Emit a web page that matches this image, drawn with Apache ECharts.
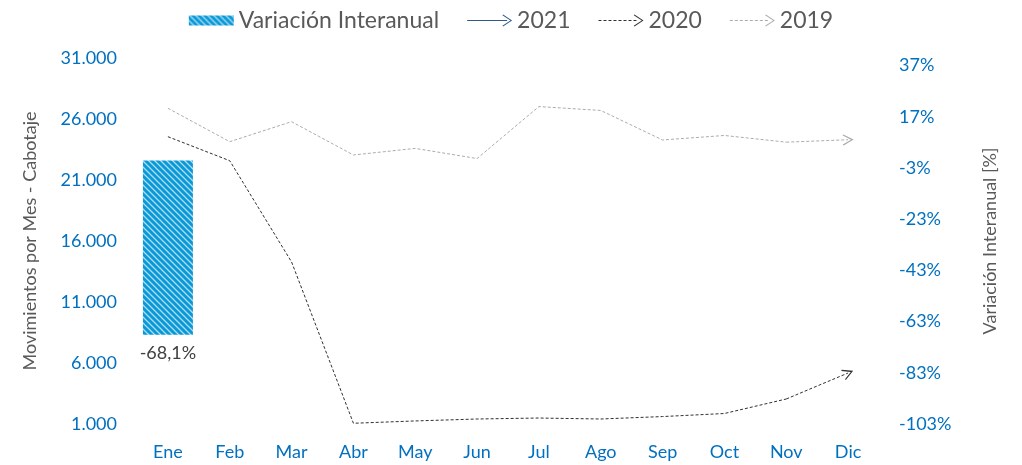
<!DOCTYPE html>
<html>
<head>
<meta charset="utf-8">
<script src="https://cdn.jsdelivr.net/npm/echarts@6/dist/echarts.min.js"></script>
<style>
    html, body { margin: 0; padding: 0; background: #fff; }
    #chart { width: 1022px; height: 465px; }
</style>
</head>
<body>
<div id="chart"></div>
<script>
// datos
const meses = ['Ene', 'Feb', 'Mar', 'Abr', 'May', 'Jun', 'Jul', 'Ago', 'Sep', 'Oct', 'Nov', 'Dic'];
const variacion = [-68.1, '-', '-', '-', '-', '-', '-', '-', '-', '-', '-', '-']; // %
const mov2021 = [7830, '-', '-', '-', '-', '-', '-', '-', '-', '-', '-', '-'];
const mov2020 = [24550, 22580, 14280, 1060, 1250, 1410, 1490, 1410, 1610, 1860, 3050, 5180];
const mov2019 = [26880, 24140, 25780, 23050, 23590, 22760, 27020, 26700, 24280, 24650, 24100, 24300];

const font = 'Lato';
const azul = '#0070C0';
const gris = '#595959';

// relleno rayado de la barra
const pat = document.createElement('canvas');
pat.width = 6; pat.height = 6;
const ctx = pat.getContext('2d');
ctx.fillStyle = '#0A98D6';
ctx.fillRect(0, 0, 6, 6);
ctx.strokeStyle = 'rgba(190,230,248,0.9)';
ctx.lineWidth = 1.3;
ctx.beginPath();
ctx.moveTo(-1, -1); ctx.lineTo(7, 7);
ctx.moveTo(-4, 2); ctx.lineTo(4, 10);
ctx.moveTo(2, -4); ctx.lineTo(10, 4);
ctx.stroke();
const rayado = { image: pat, repeat: 'repeat' };

const flecha = 'path://M5,0 L10,8.5 L9.2,9.3 L5,2.2 L0.8,9.3 L0,8.5 Z';
const iconoSolido = 'path://M0,5.4 L40,5.4 L40,6.6 L0,6.6 Z M36,0 L45,6 L36,12 L35.3,11.2 L43.3,6 L35.3,0.8 Z';
const iconoPunteado = 'path://M0,5.5 L3,5.5 L3,6.5 L0,6.5 Z M5,5.5 L8,5.5 L8,6.5 L5,6.5 Z M10,5.5 L13,5.5 L13,6.5 L10,6.5 Z M15,5.5 L18,5.5 L18,6.5 L15,6.5 Z M20,5.5 L23,5.5 L23,6.5 L20,6.5 Z M25,5.5 L28,5.5 L28,6.5 L25,6.5 Z M30,5.5 L33,5.5 L33,6.5 L30,6.5 Z M35,5.5 L38,5.5 L38,6.5 L35,6.5 Z M36,0 L45,6 L36,12 L35.3,11.2 L43.3,6 L35.3,0.8 Z';

function miles(v) {
    return String(v).replace(/\B(?=(\d{3})+(?!\d))/g, '.');
}
// la linea sin el ultimo punto; el ultimo tramo lo dibuja la flecha
function sinUltimo(arr) {
    return arr.map((v, i) => i === arr.length - 1 ? '-' : v);
}
function ultimoTramo(arr) {
    const n = arr.length;
    return [{ coords: [[n - 2, arr[n - 2]], [n - 1, arr[n - 1]]] }];
}

const chart = echarts.init(document.getElementById('chart'));
const option = {
    animation: false,
    textStyle: { fontFamily: font },
    legend: {
        top: 4,
        left: 'center',
        itemWidth: 45,
        itemHeight: 12,
        itemGap: 28,
        textStyle: { color: gris, fontSize: 23, fontFamily: font },
        data: [
            { name: 'Variación Interanual', icon: 'path://M0,1 L45,1 L45,11 L0,11 Z' },
            { name: '2021', icon: iconoSolido },
            { name: '2020', icon: iconoPunteado },
            { name: '2019', icon: iconoPunteado }
        ]
    },
    grid: { left: 137, right: 143, top: 58, bottom: 41 },
    xAxis: {
        type: 'category',
        data: meses,
        axisLine: { show: false },
        axisTick: { show: false },
        axisLabel: { color: azul, fontSize: 18, margin: 19 }
    },
    yAxis: [
        {
            type: 'value',
            min: 1000,
            max: 31000,
            interval: 5000,
            name: 'Movimientos por Mes - Cabotaje',
            nameLocation: 'middle',
            nameGap: 98,
            nameTextStyle: { color: gris, fontSize: 18 },
            splitLine: { show: false },
            axisLabel: { color: azul, fontSize: 18, margin: 20, formatter: miles }
        },
        {
            type: 'value',
            min: -103,
            max: 40,
            interval: 20,
            position: 'right',
            name: 'Variación Interanual [%]',
            nameLocation: 'middle',
            nameRotate: 90,
            nameGap: 102,
            nameTextStyle: { color: gris, fontSize: 18 },
            splitLine: { show: false },
            axisLabel: { color: azul, fontSize: 18, margin: 20, showMaxLabel: false, formatter: v => v + '%' }
        }
    ],
    series: [
        {
            name: 'Variación Interanual',
            type: 'bar',
            yAxisIndex: 1,
            barWidth: 50,
            data: variacion,
            itemStyle: { color: rayado },
            label: {
                show: true,
                position: 'bottom',
                distance: 10,
                color: '#404040',
                fontSize: 18,
                formatter: p => String(p.value).replace('.', ',') + '%'
            }
        },
        {
            name: '2021',
            type: 'line',
            symbol: 'none',
            data: mov2021,
            itemStyle: { color: '#2E5A88' },
            lineStyle: { color: '#2E5A88', width: 1 }
        },
        {
            name: '2020',
            type: 'line',
            symbol: 'none',
            data: sinUltimo(mov2020),
            itemStyle: { color: '#303030' },
            lineStyle: { color: '#303030', width: 1, type: [3, 2] }
        },
        {
            name: '2019',
            type: 'line',
            symbol: 'none',
            data: sinUltimo(mov2019),
            itemStyle: { color: '#ABABAB' },
            lineStyle: { color: '#ABABAB', width: 1, type: [3, 2] }
        },
        {
            name: '2020',
            type: 'lines',
            coordinateSystem: 'cartesian2d',
            symbol: ['none', flecha],
            symbolSize: 11,
            data: ultimoTramo(mov2020),
            lineStyle: { color: '#303030', width: 1, type: [3, 2], opacity: 1 }
        },
        {
            name: '2019',
            type: 'lines',
            coordinateSystem: 'cartesian2d',
            symbol: ['none', flecha],
            symbolSize: 11,
            data: ultimoTramo(mov2019),
            lineStyle: { color: '#ABABAB', width: 1, type: [3, 2], opacity: 1 }
        }
    ]
};
chart.setOption(option);
</script>
</body>
</html>
